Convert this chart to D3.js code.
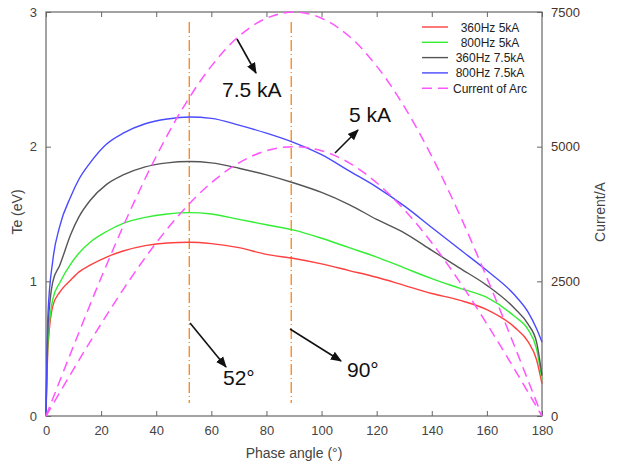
<!DOCTYPE html>
<html>
<head>
<meta charset="utf-8">
<script src="https://cdn.jsdelivr.net/npm/d3@7"></script>
<style>
  body { margin: 0; background: #fff; }
  svg { font-family: "Liberation Sans", Arial, sans-serif; }
</style>
</head>
<body>
<svg width="621" height="466"></svg>
<script>
const angles = [0, 0.7, 2.5, 5, 9, 12, 16, 22, 28, 36, 44, 52, 60, 70, 80, 90, 100, 110, 120, 130, 140, 150, 160, 170, 175, 178, 180];
const te360_5 = [0, 0.5, 0.82, 0.92, 1.01, 1.07, 1.12, 1.18, 1.225, 1.265, 1.285, 1.29, 1.28, 1.25, 1.2, 1.17, 1.13, 1.08, 1.03, 0.97, 0.91, 0.86, 0.79, 0.66, 0.55, 0.42, 0.24];
const te800_5 = [0, 0.55, 0.87, 0.99, 1.13, 1.21, 1.29, 1.37, 1.43, 1.475, 1.5, 1.51, 1.5, 1.46, 1.42, 1.38, 1.32, 1.25, 1.18, 1.1, 1.02, 0.95, 0.88, 0.74, 0.64, 0.5, 0.27];
const te360_75 = [0, 0.65, 1.0, 1.12, 1.35, 1.48, 1.6, 1.72, 1.79, 1.85, 1.88, 1.89, 1.88, 1.84, 1.79, 1.73, 1.66, 1.57, 1.46, 1.36, 1.23, 1.1, 0.97, 0.8, 0.68, 0.55, 0.3];
const te800_75 = [0, 0.75, 1.16, 1.41, 1.63, 1.76, 1.88, 2.02, 2.1, 2.17, 2.205, 2.22, 2.21, 2.16, 2.1, 2.03, 1.94, 1.82, 1.7, 1.56, 1.4, 1.24, 1.08, 0.9, 0.77, 0.65, 0.55];

// arc current (A)
const curAngles = [0, 10, 20, 30, 40, 50, 60, 70, 80, 90, 100, 110, 120, 130, 140, 150, 160, 170, 180];
const cur75 = [0, 1300, 2565, 3750, 4820, 5745, 6495, 7050, 7385, 7500, 7385, 7050, 6495, 5745, 4820, 3750, 2565, 1300, 0];
const cur5 = [0, 870, 1710, 2500, 3215, 3830, 4330, 4700, 4925, 5000, 4925, 4700, 4330, 3830, 3215, 2500, 1710, 870, 0];

const xTicks = [0, 20, 40, 60, 80, 100, 120, 140, 160, 180];
const yTicks = [0, 1, 2, 3];
const y2Ticks = [0, 2500, 5000, 7500];
const markAngles = [52, 89];

const series = [
  {name: "360Hz 5kA", vals: te360_5, color: "#ff4040"},
  {name: "800Hz 5kA", vals: te800_5, color: "#33ee33"},
  {name: "360Hz 7.5kA", vals: te360_75, color: "#555555"},
  {name: "800Hz 7.5kA", vals: te800_75, color: "#4a4aff"}
];

let svg = d3.select("svg"),
    margin = {top: 12, right: 79, bottom: 50, left: 46},
    width = +svg.attr("width") - margin.left - margin.right,
    height = +svg.attr("height") - margin.top - margin.bottom,
    g = svg.append("g").attr("transform", "translate(" + margin.left + "," + margin.top + ")");

const x = d3.scaleLinear().domain([0, 180]).range([0, width]);
const y = d3.scaleLinear().domain([0, 3]).range([height, 0]);
const y2 = d3.scaleLinear().domain([0, 7500]).range([height, 0]);

const teLine = vals => d3.line()
    .x((d, i) => x(angles[i]))
    .y(d => y(d))
    .curve(d3.curveMonotoneX)(vals);

const curLine = vals => d3.line()
    .x((d, i) => x(curAngles[i]))
    .y(d => y2(d))
    .curve(d3.curveCatmullRom)(vals);

// axes box
g.append("rect")
    .attr("width", width).attr("height", height)
    .attr("fill", "none").attr("stroke", "#666").attr("stroke-width", 1.2);

const axisStyle = (sel, color) => {
  sel.select(".domain").remove();
  sel.selectAll(".tick line").attr("stroke", "#666");
  sel.selectAll(".tick text").attr("fill", color).attr("font-size", 13);
};

const fmt = d3.format("d");

g.append("g").attr("transform", "translate(0," + height + ")")
    .call(d3.axisBottom(x).tickValues(xTicks).tickFormat(fmt).tickSizeInner(-5).tickSizeOuter(0).tickPadding(10))
    .call(s => axisStyle(s, "#444"));
g.append("g")
    .call(d3.axisTop(x).tickValues(xTicks).tickSizeInner(-5).tickSizeOuter(0).tickFormat(""))
    .call(s => axisStyle(s, "#444"));
g.append("g")
    .call(d3.axisLeft(y).tickValues(yTicks).tickFormat(fmt).tickSizeInner(-5).tickSizeOuter(0).tickPadding(9))
    .call(s => axisStyle(s, "#444"));
g.append("g").attr("transform", "translate(" + width + ",0)")
    .call(d3.axisRight(y2).tickValues(y2Ticks).tickFormat(fmt).tickSizeInner(-5).tickSizeOuter(0).tickPadding(9))
    .call(s => axisStyle(s, "#4a3226"));

// vertical markers
g.selectAll(".mark").data(markAngles).enter().append("line")
    .attr("x1", d => x(d)).attr("x2", d => x(d))
    .attr("y1", 10).attr("y2", height - 13)
    .attr("stroke", "#ff8a1f").attr("stroke-width", 1.4)
    .attr("stroke-dasharray", "11,3,1,3");

// Te curves
g.selectAll(".te").data(series).enter().append("path")
    .attr("d", d => teLine(d.vals))
    .attr("fill", "none").attr("stroke", d => d.color).attr("stroke-width", 1.4);

// arc current
[cur75, cur5].forEach(c => {
  g.append("path").attr("d", curLine(c))
      .attr("fill", "none").attr("stroke", "#ff55ff").attr("stroke-width", 1.5)
      .attr("stroke-dasharray", "10,6");
});

// annotations
svg.append("defs").append("marker")
    .attr("id", "ah").attr("viewBox", "0 0 10 10").attr("refX", 9).attr("refY", 5)
    .attr("markerWidth", 7).attr("markerHeight", 7).attr("orient", "auto")
  .append("path").attr("d", "M0,1 L10,5 L0,9 z").attr("fill", "#111");

const arrows = [
  {x1: 237, y1: 39, x2: 256, y2: 73, label: "7.5 kA", tx: 222, ty: 97},
  {x1: 335, y1: 153, x2: 358, y2: 130, label: "5 kA", tx: 349, ty: 122},
  {x1: 190, y1: 323, x2: 226, y2: 367, label: "52\u00b0", tx: 223, ty: 385},
  {x1: 290, y1: 329, x2: 341, y2: 361, label: "90\u00b0", tx: 347, ty: 377}
];
arrows.forEach(a => {
  svg.append("line").attr("x1", a.x1).attr("y1", a.y1).attr("x2", a.x2).attr("y2", a.y2)
      .attr("stroke", "#111").attr("stroke-width", 1.6).attr("marker-end", "url(#ah)");
  svg.append("text").attr("x", a.tx).attr("y", a.ty)
      .attr("font-size", 21).attr("fill", "#111").text(a.label);
});

// legend
const legend = svg.append("g").attr("transform", "translate(422,27)");
const legItems = series.map(s => ({name: s.name, color: s.color, dash: null}))
    .concat([{name: "Current of Arc", color: "#ff55ff", dash: "10,6"}]);
legItems.forEach((d, i) => {
  legend.append("line").attr("x1", 0).attr("x2", 26).attr("y1", i * 15.3).attr("y2", i * 15.3)
      .attr("stroke", d.color).attr("stroke-width", 1.4).attr("stroke-dasharray", d.dash);
  legend.append("text").attr("x", 68).attr("y", i * 15.3 + 4.5)
      .attr("text-anchor", "middle").attr("font-size", 12).attr("fill", "#222").text(d.name);
});

// axis titles
svg.append("text").attr("x", 294).attr("y", 458).attr("text-anchor", "middle")
    .attr("font-size", 14).attr("fill", "#444").text("Phase angle (\u00b0)");
svg.append("text").attr("transform", "translate(22,212) rotate(-90)").attr("text-anchor", "middle")
    .attr("font-size", 14).attr("fill", "#444").text("Te (eV)");
svg.append("text").attr("transform", "translate(605,212) rotate(-90)").attr("text-anchor", "middle")
    .attr("font-size", 14).attr("fill", "#444").text("Current/A");
</script>
</body>
</html>
